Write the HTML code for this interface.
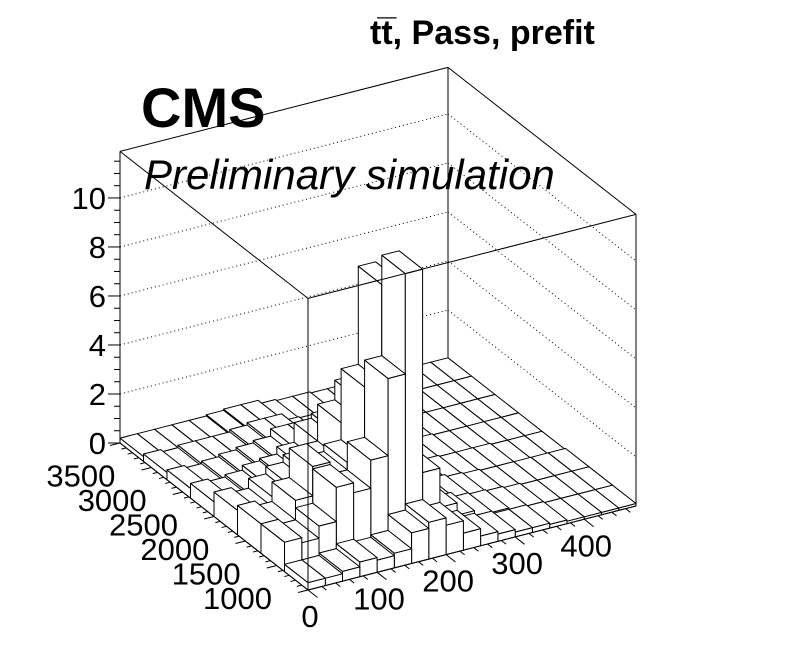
<!DOCTYPE html>
<html><head><meta charset="utf-8"><style>
html,body{margin:0;padding:0;background:#fff;}
svg{display:block;font-family:"Liberation Sans",sans-serif;}
</style></head><body>
<svg id="chart" width="796" height="672" viewBox="0 0 796 672" xmlns="http://www.w3.org/2000/svg">
<rect width="796" height="672" fill="#fff"/>
<text x="370" y="44" font-size="34" font-weight="bold">tt&#773;, Pass, prefit</text>
<g id="walls"></g>
<g id="bars"></g>
<g id="frame"></g>
<text x="141" y="127" font-size="56" font-weight="bold">CMS</text>
<text x="144" y="189" font-size="42" font-style="italic">Preliminary simulation</text>
</svg>
<script>
const xRange = [0, 475];
const yRange = [1000, 4000];
const zMax = 11.9;
const nX = 19;
const nY = 8;
const xTicks = [0, 100, 200, 300, 400];
const yTicks = [1000, 1500, 2000, 2500, 3000, 3500];
const zTicks = [0, 2, 4, 6, 8, 10];
const row0 = [0.3,0.3,0.4,0.6,0.5,0.6,1.25,1.5,1.2,0.7,0.4,0.3,0.2,0.2,0.15,0.1,0.1,0.1,0.1];
const row1 = [1.2,1.0,1.5,2.9,2.5,3.65,6.8,10.9,2.6,1.0,0.5,0.3,0.25,0.2,0.15,0.1,0.1,0.1,0.1];
const row2 = [1.2,1.0,1.8,3.0,2.5,2.8,5.7,9.7,1.5,0.6,0.4,0.3,0.2,0.15,0.1,0.1,0.1,0.1,0.1];
const row3 = [1.0,0.8,1.2,1.5,1.8,2.0,3.5,4.3,1.0,0.4,0.3,0.2,0.15,0.1,0.1,0.1,0.05,0.05,0.05];
const row4 = [0.6,0.5,0.6,0.8,0.9,1.2,2.0,2.2,0.5,0.3,0.2,0.15,0.1,0.1,0.05,0.05,0.05,0.05,0.05];
const row5 = [0.4,0.3,0.4,0.5,0.6,0.7,1.0,1.0,0.3,0.2,0.15,0.1,0.1,0.05,0.05,0.05,0.05,0.05,0.05];
const row6 = [0.3,0.2,0.3,0.3,0.3,0.4,0.5,0.5,0.2,0.15,0.1,0.1,0.05,0.05,0.05,0.05,0.05,0.05,0.05];
const row7 = [0.2,0.2,0.2,0.2,0.2,0.25,0.3,0.3,0.15,0.1,0.1,0.05,0.05,0.05,0.05,0.05,0.05,0.05,0.05];
const rows = [row0,row1,row2,row3,row4,row5,row6,row7];

const NS = "http://www.w3.org/2000/svg";
const O = [308,590], EX=[328,-84], EY=[-188,-147], HZ=291.6;
function fx(v){return (v-xRange[0])/(xRange[1]-xRange[0]);}
function fy(v){return (v-yRange[0])/(yRange[1]-yRange[0]);}
function P(u,v,z){return [O[0]+u*EX[0]+v*EY[0], O[1]+u*EX[1]+v*EY[1]-z/zMax*HZ];}
function mk(parent,tag,attrs){const e=document.createElementNS(NS,tag);for(const k in attrs)e.setAttribute(k,attrs[k]);parent.appendChild(e);return e;}
function line(parent,a,b,extra){return mk(parent,'line',Object.assign({x1:a[0],y1:a[1],x2:b[0],y2:b[1],stroke:'#000','stroke-width':1},extra||{}));}
const walls=document.getElementById('walls'), bars=document.getElementById('bars'), frame=document.getElementById('frame');

zTicks.forEach(t=>{ if(t===0) return;
  const a=P(0,1,t), b=P(1,1,t), c=P(1,0,t);
  const l1=line(walls,a,b,{'stroke-dasharray':'1,3'});
  
  
  const l2=line(walls,b,c,{'stroke-dasharray':'1,3'});
  
  
});
[[P(0,1,0),P(1,1,0)],[P(1,1,0),P(1,0,0)],[P(1,1,0),P(1,1,zMax)]].forEach(s=>line(walls,s[0],s[1]));

for(let iy=nY-1;iy>=0;iy--){
  for(let ix=nX-1;ix>=0;ix--){
    const h=rows[iy][ix];
    const u0=ix/nX,u1=(ix+1)/nX,v0=iy/nY,v1=(iy+1)/nY;
    const g=mk(bars,'g',{});
    
    
    const faces=[
      [P(u0,v0,0),P(u0,v1,0),P(u0,v1,h),P(u0,v0,h)],
      [P(u0,v0,0),P(u1,v0,0),P(u1,v0,h),P(u0,v0,h)],
      [P(u0,v0,h),P(u1,v0,h),P(u1,v1,h),P(u0,v1,h)]
    ];
    faces.forEach(f=>mk(g,'polygon',{points:f.map(p=>p[0].toFixed(1)+','+p[1].toFixed(1)).join(' '),fill:'#fff',stroke:'#000','stroke-width':1,'stroke-linejoin':'round'}));
  }
}

const T=[P(0,1,zMax),P(1,1,zMax),P(1,0,zMax),P(0,0,zMax)];
line(frame,T[0],T[1]);line(frame,T[1],T[2]);line(frame,T[2],T[3]);line(frame,T[3],T[0]);
line(frame,P(0,1,0),P(0,1,zMax));line(frame,P(1,0,0),P(1,0,zMax));line(frame,P(0,0,0),P(0,0,zMax));
line(frame,P(0,0,0),P(1,0,0));line(frame,P(0,0,0),P(0,1,0));

for(let z=0;z<=11.5;z+=0.5){
  const p=P(0,1,z); const major=(z%2===0);
  line(frame,p,[p[0]-(major?12:6),p[1]]);
}
zTicks.forEach(t=>{const p=P(0,1,t);
  const tx=mk(frame,'text',{x:p[0]-14,y:p[1]+11,'font-size':31,'text-anchor':'end'});
  tx.textContent=t;
  
  
});
for(let v=0;v<=xRange[1];v+=20){
  const p=P(fx(v),0,0); const major=(v%100===0);
  const d=major?0.05:0.025;
  line(frame,p,[p[0]-EY[0]*d,p[1]-EY[1]*d]);
}
xTicks.forEach(t=>{const p=P(fx(t),0,0);
  const tx=mk(frame,'text',{x:p[0]+2,y:p[1]+37,'font-size':31,'text-anchor':'middle'});
  tx.textContent=t;
  
  
});
for(let v=yRange[0];v<=yRange[1];v+=100){
  const p=P(0,fy(v),0); const major=(v%500===0);
  const d=major?0.03:0.015;
  line(frame,p,[p[0]-EX[0]*d,p[1]-EX[1]*d]);
}
yTicks.forEach(t=>{const p=P(0,fy(t),0);
  const tx=mk(frame,'text',{x:p[0]-36,y:p[1]+19,'font-size':31,'text-anchor':'end'});
  tx.textContent=t;
  
  
});
</script>
</body></html>
